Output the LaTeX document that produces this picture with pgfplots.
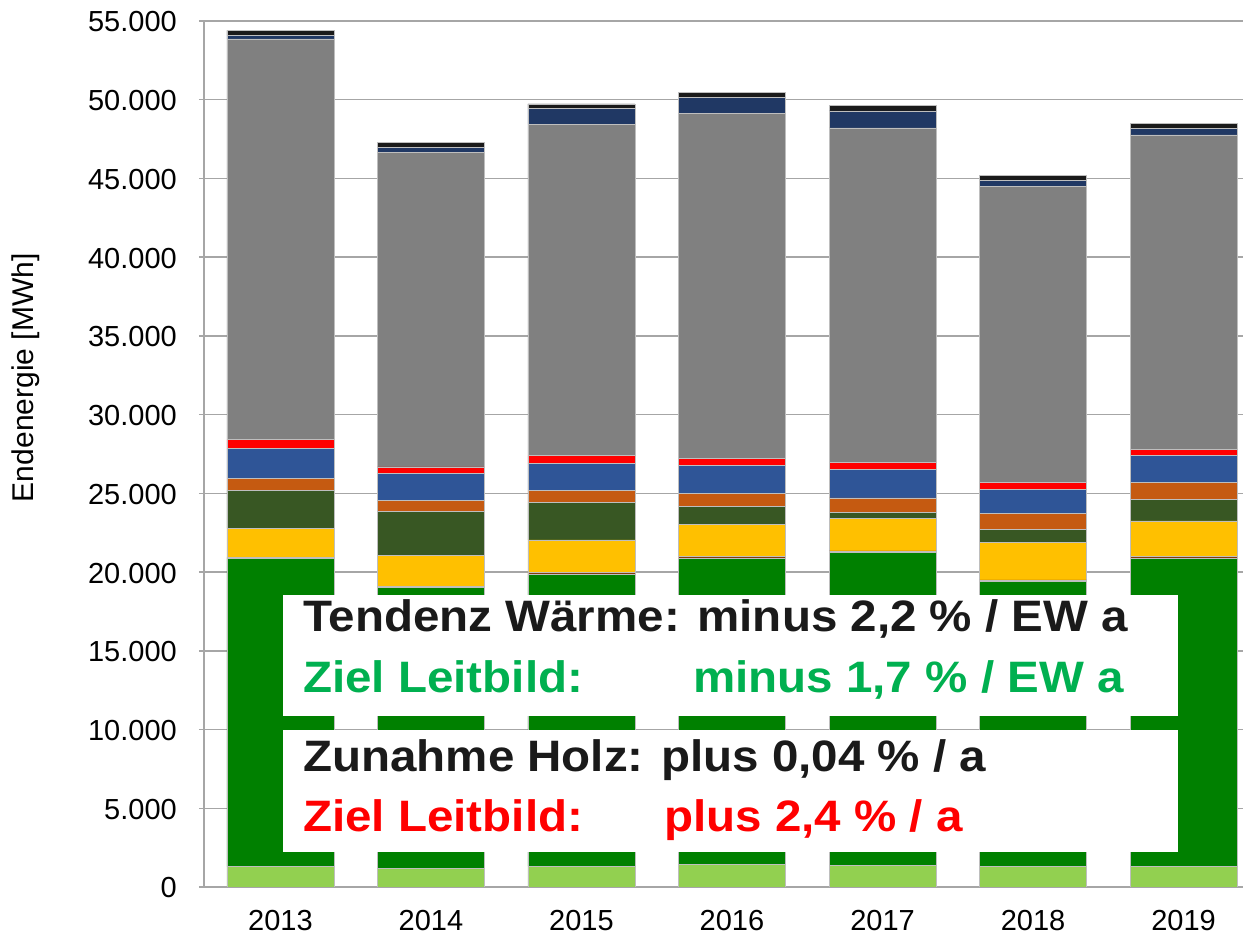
\documentclass[border=0pt]{standalone}
\usepackage{fontspec}
\setmainfont{Liberation Sans}
\usepackage{graphicx}
\usepackage{pgfplots}
\pgfplotsset{compat=1.18}
\definecolor{cLG}{HTML}{92D050}
\definecolor{cDG}{HTML}{008000}
\definecolor{cBR}{HTML}{843C0C}
\definecolor{cYE}{HTML}{FFC000}
\definecolor{cOL}{HTML}{385723}
\definecolor{cOR}{HTML}{C55A11}
\definecolor{cBL}{HTML}{2F5597}
\definecolor{cRD}{HTML}{FF0000}
\definecolor{cGR}{HTML}{808080}
\definecolor{cDB}{HTML}{203864}
\definecolor{cBK}{HTML}{1A1A1A}
\definecolor{cGrid}{HTML}{A6A6A6}
\definecolor{tGreen}{HTML}{00B050}
\newcommand\bx[1]{\scalebox{1.08}[1]{\fontsize{44}{50}\selectfont\bfseries #1}}
\begin{document}
\begin{tikzpicture}
\begin{axis}[
  at={(0pt,0pt)}, anchor=south west,
  scale only axis, width=1039pt, height=866pt,
  xmin=-0.508, xmax=6.395, ymin=0, ymax=55000,
  ybar stacked, bar width=107pt,
  xtick={0,1,2,3,4,5,6},
  xticklabels={2013,2014,2015,2016,2017,2018,2019},
  ytick={0,5000,10000,15000,20000,25000,30000,35000,40000,45000,50000,55000},
  yticklabels={0,5.000,10.000,15.000,20.000,25.000,30.000,35.000,40.000,45.000,50.000,55.000},
  ymajorgrids, grid style={cGrid, line width=1.5pt},
  axis x line*=bottom, axis y line*=left,
  axis line style={cGrid, line width=1.5pt, -},
  x tick style={draw=none},
  y tick style={cGrid, line width=1.5pt},
  tick align=outside, major tick length=5pt,
  ticklabel style={font=\fontsize{29}{34}\selectfont, text=black},
  yticklabel style={inner sep=0pt, anchor=east, xshift=-22pt, yshift=-1pt},
  xticklabel style={inner sep=0pt, anchor=north, yshift=-18pt},
  ylabel={Endenergie [MWh]},
  ylabel style={font=\fontsize{30}{34}\selectfont, at={(axis description cs:-0.1713,0.588)}, anchor=center},
  every axis plot/.append style={draw={rgb,255:red,190;green,190;blue,190}, line width=0.6pt},
]
\addplot[fill=cLG] coordinates {(0,1290) (1,1190) (2,1330) (3,1460) (4,1350) (5,1290) (6,1290)};
\addplot[fill=cDG] coordinates {(0,19560) (1,17840) (2,18530) (3,19390) (4,19880) (5,18100) (6,19560)};
\addplot[fill=cBR] coordinates {(0,90) (1,70) (2,100) (3,130) (4,110) (5,110) (6,130)};
\addplot[fill=cYE] coordinates {(0,1840) (1,1970) (2,2080) (3,2050) (4,2050) (5,2390) (6,2270)};
\addplot[fill=cOL] coordinates {(0,2410) (1,2770) (2,2370) (3,1120) (4,380) (5,830) (6,1350)};
\addplot[fill=cOR] coordinates {(0,740) (1,700) (2,780) (3,870) (4,940) (5,990) (6,1120)};
\addplot[fill=cBL] coordinates {(0,1910) (1,1710) (2,1720) (3,1740) (4,1820) (5,1550) (6,1670)};
\addplot[fill=cRD] coordinates {(0,570) (1,430) (2,510) (3,440) (4,420) (5,420) (6,380)};
\addplot[fill=cGR] coordinates {(0,25450) (1,19980) (2,21020) (3,21920) (4,21260) (5,18800) (6,19990)};
\addplot[fill=cDB] coordinates {(0,230) (1,320) (2,1010) (3,1030) (4,1080) (5,400) (6,420)};
\addplot[fill=cBK] coordinates {(0,320) (1,290) (2,280) (3,320) (4,330) (5,320) (6,300)};
\coordinate (b1sw) at (axis cs:0.017,10861);
\coordinate (b1ne) at (axis cs:5.964,18545);
\coordinate (b2sw) at (axis cs:0.017,2223);
\coordinate (b2ne) at (axis cs:5.964,9971);
\coordinate (t1) at (axis cs:0.150,16196);
\coordinate (t2) at (axis cs:0.150,12321);
\coordinate (t2b) at (axis cs:2.741,12321);
\coordinate (t3) at (axis cs:0.150,7304);
\coordinate (t4) at (axis cs:0.150,3493);
\coordinate (t4b) at (axis cs:2.548,3493);
\end{axis}
\fill[white] (b1sw) rectangle (b1ne);
\fill[white] (b2sw) rectangle (b2ne);
\node[anchor=base west, inner sep=0pt, text=cBK] at (t1) {\bx{Tendenz Wärme: minus 2,2 \% / EW a}};
\node[anchor=base west, inner sep=0pt, text=tGreen] at (t2) {\bx{Ziel Leitbild:}};
\node[anchor=base west, inner sep=0pt, text=tGreen] at (t2b) {\bx{minus 1,7 \% / EW a}};
\node[anchor=base west, inner sep=0pt, text=cBK] at (t3) {\bx{Zunahme Holz: plus 0,04 \% / a}};
\node[anchor=base west, inner sep=0pt, text=cRD] at (t4) {\bx{Ziel Leitbild:}};
\node[anchor=base west, inner sep=0pt, text=cRD] at (t4b) {\bx{plus 2,4 \% / a}};
\pgfresetboundingbox
\path[use as bounding box] (-204pt,-49pt) rectangle (1039pt,887pt);
\end{tikzpicture}
\end{document}
